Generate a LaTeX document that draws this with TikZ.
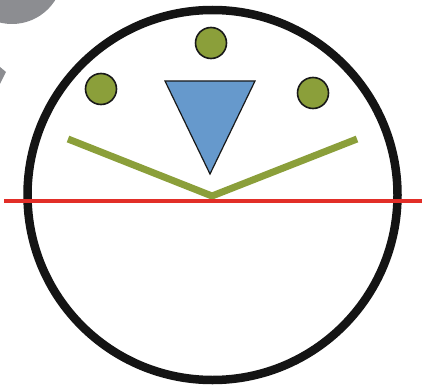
\documentclass[tikz,border=0pt]{standalone}
\usepackage{tikz}
\usetikzlibrary{shapes.geometric, positioning}
\definecolor{grisFondo}{RGB}{140,141,145}
\definecolor{verdeOliva}{RGB}{139,159,58}
\definecolor{azulTri}{RGB}{102,153,204}
\definecolor{rojoLinea}{RGB}{226,46,40}
\tikzset{
  sc/ring/.style={draw=black!92, line width=8.5pt},
  sc/dot/.style={circle, draw=black!90, fill=verdeOliva,
    line width=1.6pt, minimum size=31pt, inner sep=0pt},
  sc/tri/.style={draw=black!90, fill=azulTri, line width=1.2pt,
    line join=miter},
  sc/vee/.style={draw=verdeOliva, line width=7pt},
  sc/horiz/.style={draw=rojoLinea, line width=4pt},
  sc/grey/.style={fill=grisFondo, draw=none}
}
\begin{document}
\begin{tikzpicture}[x=1pt, y=-1pt]
  \clip (0,0) rectangle (422,385);
  % grey shapes at the corner
  \fill[sc/grey] (12,-27) circle (51pt);
  \fill[sc/grey] (0,67) -- (6,72) -- (0,84) -- cycle;

  % outer ring
  \coordinate (c) at (212.5,195);
  \draw[sc/ring] (c) circle (185pt);

  % dots
  \node[sc/dot] (dl) at (101,89) {};
  \node[sc/dot] (dt) at (211,43) {};
  \node[sc/dot] (dr) at (313,93) {};

  % triangle
  \coordinate (ta) at (165,81);
  \coordinate (tb) at (255,81);
  \coordinate (tc) at (210,174);
  \draw[sc/tri] (ta) -- (tb) -- (tc) -- cycle;

  % vee
  \coordinate (vl) at (68,139);
  \coordinate (vm) at (212,196);
  \coordinate (vr) at (357,139);
  \draw[sc/vee] (vl) -- (vm) -- (vr);

  % horizon
  \coordinate (hl) at (4,200.5);
  \coordinate (hr) at (422,200.5);
  \draw[sc/horiz] (hl) -- (hr);
\end{tikzpicture}
\end{document}
